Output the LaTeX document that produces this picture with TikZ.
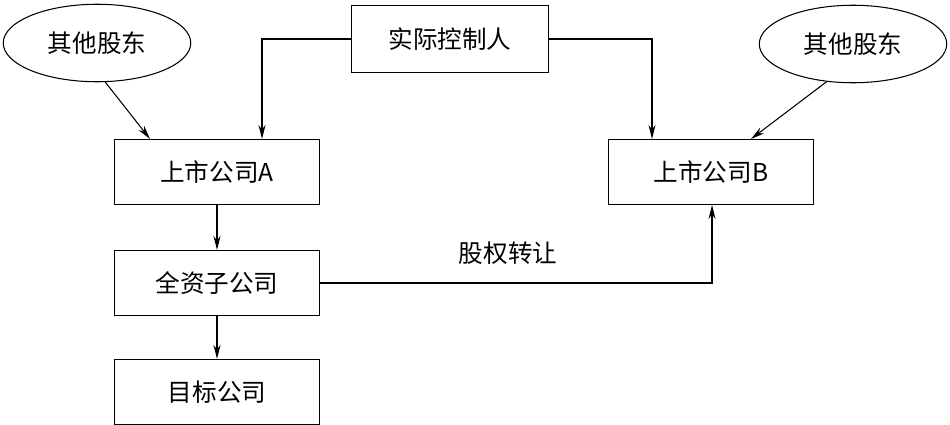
\documentclass[tikz,border=0pt]{standalone}
\usepackage{fontspec}
\setmainfont{Liberation Serif}
\newfontfamily\cjk{Noto Sans CJK SC}
\usetikzlibrary{arrows.meta,shapes.geometric}
\tikzset{
  box/.style={draw,minimum width=4.1cm,minimum height=1.3cm,font=\cjk\fontsize{14}{16}\selectfont},
  holder/.style={draw,ellipse,minimum width=3.75cm,minimum height=1.55cm,font=\cjk\fontsize{14}{16}\selectfont},
  arr/.style={-{Stealth[length=8pt,width=4pt]},semithick}
}
\begin{document}
\begin{tikzpicture}[semithick]
  \useasboundingbox (0,0) rectangle (19,8.48);
  %Knoten
  \node[holder] (holderL) at (1.94,7.62){其他股东};
  \node[holder] (holderR) at (17.06,7.6){其他股东};
  \node[box,minimum width=3.94cm,minimum height=1.34cm] (ctrl) at (9,7.7){实际控制人};
  \node[box] (A) at (4.34,5.04){上市公司A};
  \node[box] (B) at (14.22,5.04){上市公司B};
  \node[box] (sub) at (4.34,2.82){全资子公司};
  \node[box] (target) at (4.34,0.64){目标公司};
  \coordinate (ctrlL) at (5.24,7.7);
  \coordinate (ctrlR) at (13.04,7.7);
  \coordinate (turn) at (14.24,2.82);

  %Pfeile
  \draw[arr] (holderL.-78) -- ([xshift=-1.34cm]A.north);
  \draw[arr] (holderR.-125) -- ([xshift=0.8cm]B.north);
  \draw[arr] (ctrl.west) -- (ctrlL) -- (ctrlL |- A.north);
  \draw[arr] (ctrl.east) -- (ctrlR) -- (ctrlR |- B.north);
  \draw[arr] (A) -- (sub);
  \draw[arr] (sub) -- (target);
  \draw[arr] (sub.east) -- (turn) -- (turn |- B.south);
  \node[font=\cjk\fontsize{14}{16}\selectfont] (label) at (10.16,3.42){股权转让};
\end{tikzpicture}
\end{document}
